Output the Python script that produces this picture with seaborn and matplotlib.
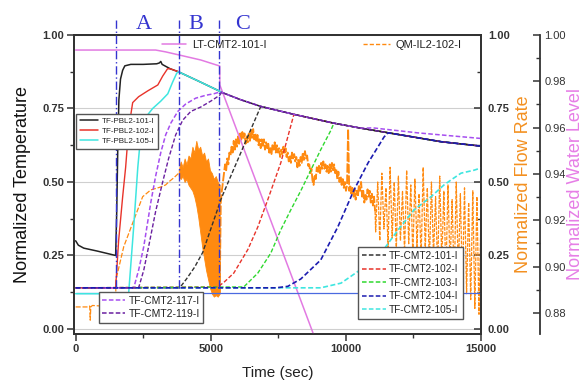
import numpy as np
import pandas as pd
import matplotlib
matplotlib.use("Agg")
import matplotlib.pyplot as plt
from matplotlib.lines import Line2D
from matplotlib.ticker import MultipleLocator, FixedLocator
import seaborn as sns

# ---------------- data ----------------
env_t = [3800, 4500, 5300, 5400, 6100, 6850, 8075, 9555, 10555, 12040, 13520, 15000]
env_v = [0.875, 0.845, 0.81, 0.805, 0.78, 0.757, 0.73, 0.70, 0.683, 0.66, 0.637, 0.622]

pbl101_t = [0, 100, 300, 800, 1480, 1520, 1560, 1600, 1660, 1740, 1820, 2040, 2500, 3000, 3100, 3150, 3200, 3300, 3500]
pbl101_v = [0.30, 0.285, 0.275, 0.265, 0.25, 0.40, 0.62, 0.78, 0.85, 0.88, 0.895, 0.90, 0.90, 0.902, 0.905, 0.91, 0.90, 0.895, 0.885]
pbl102_t = [0, 1480, 1590, 1740, 1850, 1960, 2110, 2330, 2670, 3040, 3220, 3400, 3500]
pbl102_v = [0.14, 0.14, 0.30, 0.45, 0.55, 0.68, 0.77, 0.79, 0.81, 0.83, 0.86, 0.885, 0.885]
pbl105_t = [0, 1960, 2150, 2300, 2410, 2590, 2850, 3150, 3410, 3590, 3740]
pbl105_v = [0.12, 0.12, 0.35, 0.55, 0.66, 0.72, 0.75, 0.775, 0.80, 0.84, 0.87]

cmt117_t = [0, 2150, 2330, 2520, 2780, 2960, 3150, 3330, 3520, 3780, 4070, 4440, 4820, 5110, 5330]
cmt117_v = [0.14, 0.14, 0.20, 0.28, 0.43, 0.52, 0.60, 0.66, 0.70, 0.74, 0.765, 0.785, 0.795, 0.80, 0.806]
cmt117_tail_t = [11000, 12667, 15000]
cmt117_tail_v = [0.684, 0.667, 0.648]
cmt119_t = [0, 2330, 2520, 2700, 2960, 3220, 3440, 3700, 3960, 4260, 4630, 5000, 5330]
cmt119_v = [0.14, 0.14, 0.20, 0.28, 0.40, 0.50, 0.58, 0.66, 0.71, 0.74, 0.755, 0.775, 0.795]

cmt101_t = [0, 3850, 4100, 4400, 4700, 5000, 5300, 5370, 5740, 6300]
cmt101_v = [0.14, 0.14, 0.17, 0.21, 0.26, 0.34, 0.42, 0.44, 0.52, 0.64]
cmt102_t = [0, 5260, 5500, 5850, 6370, 6740, 7110, 7590]
cmt102_v = [0.14, 0.143, 0.16, 0.19, 0.27, 0.347, 0.44, 0.565]
cmt103_t = [0, 6220, 6740, 7220, 7590, 7960, 8330, 8700, 9070, 9440]
cmt103_v = [0.14, 0.143, 0.19, 0.258, 0.337, 0.405, 0.47, 0.54, 0.61, 0.675]
cmt104_t = [0, 7410, 7850, 8330, 9070, 9700, 10300, 10820, 11190, 11410, 11560]
cmt104_v = [0.14, 0.14, 0.145, 0.17, 0.235, 0.347, 0.473, 0.565, 0.62, 0.653, 0.667]
cmt105_t = [0, 9070, 9820, 10670, 11300, 11930, 12520, 13150, 13630, 13890, 14260, 14740, 15000]
cmt105_v = [0.14, 0.14, 0.156, 0.21, 0.258, 0.337, 0.405, 0.45, 0.49, 0.507, 0.53, 0.54, 0.548]

base_t = [0, 15000]
base_v = [0.124, 0.124]

lt_t = [0, 2960, 3330, 3815, 4630, 5330, 5335, 8890]
lt_v = [0.9935, 0.9935, 0.9927, 0.9914, 0.9892, 0.9866, 0.9784, 0.868]

# flow rate: early part
orange_a_t = [0, 450, 520, 540, 560, 620, 1480, 1490, 1780, 2150, 2480, 2780, 3150, 3330, 3440, 3630, 3815]
orange_a_v = [0.075, 0.075, 0.078, 0.03, 0.075, 0.08, 0.075, 0.167, 0.28, 0.37, 0.45, 0.473, 0.483, 0.49, 0.50, 0.514, 0.53]
# flow rate: dense oscillating band (3815 s .. 5330 s), upper and lower envelopes
band_span = (3815, 5330)
band_hi = [0.54, 0.57, 0.55, 0.58, 0.56, 0.59, 0.58, 0.62, 0.60, 0.64, 0.61, 0.62, 0.59, 0.60, 0.57, 0.58, 0.54, 0.53, 0.51, 0.52, 0.50, 0.49]
band_lo = [0.52, 0.51, 0.52, 0.50, 0.51, 0.49, 0.48, 0.47, 0.45, 0.42, 0.38, 0.33, 0.28, 0.24, 0.20, 0.17, 0.14, 0.12, 0.11, 0.115, 0.11, 0.12]
# flow rate: noisy plateau (5330 s .. 11080 s), evenly sampled
plateau_span = (5330, 11080)
plateau_v = [0.12, 0.43, 0.47, 0.50, 0.53, 0.56, 0.54, 0.58, 0.56, 0.60, 0.59, 0.62, 0.60, 0.64, 0.61, 0.645,
             0.62, 0.655, 0.63, 0.665, 0.64, 0.67, 0.65, 0.665, 0.63, 0.655, 0.635, 0.665, 0.64, 0.675, 0.65,
             0.68, 0.645, 0.665, 0.64, 0.66, 0.625, 0.645, 0.615, 0.645, 0.62, 0.645, 0.61, 0.635, 0.615, 0.63,
             0.595, 0.615, 0.595, 0.63, 0.61, 0.635, 0.60, 0.625, 0.60, 0.615, 0.585, 0.61, 0.595, 0.62, 0.595,
             0.615, 0.585, 0.60, 0.57, 0.59, 0.565, 0.60, 0.58, 0.595, 0.57, 0.585, 0.55, 0.575, 0.555, 0.585,
             0.565, 0.60, 0.575, 0.605, 0.58, 0.59, 0.555, 0.56, 0.53, 0.545, 0.505, 0.49, 0.525, 0.51, 0.55,
             0.53, 0.555, 0.53, 0.565, 0.545, 0.57, 0.545, 0.56, 0.535, 0.555, 0.53, 0.56, 0.535, 0.565, 0.54,
             0.56, 0.53, 0.545, 0.51, 0.535, 0.50, 0.52, 0.49, 0.51, 0.48, 0.50, 0.47, 0.49, 0.68, 0.47, 0.49,
             0.46, 0.48, 0.45, 0.475, 0.44, 0.47, 0.45, 0.49, 0.47, 0.50, 0.45, 0.47, 0.43, 0.46, 0.44, 0.475,
             0.45, 0.47, 0.43, 0.46, 0.42, 0.45, 0.40]
# flow rate: strong oscillation (11100 s .. 15000 s), evenly sampled
osc_span = (11100, 15000)
osc_v = [0.33, 0.50, 0.30, 0.53, 0.34, 0.48, 0.28, 0.55, 0.31, 0.50, 0.27, 0.52, 0.30, 0.47, 0.26, 0.54,
         0.29, 0.49, 0.25, 0.51, 0.28, 0.46, 0.24, 0.55, 0.27, 0.48, 0.22, 0.50, 0.25, 0.45, 0.20, 0.52,
         0.23, 0.47, 0.18, 0.49, 0.21, 0.44, 0.16, 0.50, 0.19, 0.46, 0.14, 0.48, 0.12, 0.43, 0.10, 0.47,
         0.07, 0.45, 0.05, 0.40]

phase_t = [1490, 3820, 5320]
phase_names = ["A", "B", "C"]
phase_label_t = [2520, 4440, 6185]

temp_ticks = [0.0, 0.25, 0.5, 0.75, 1.0]
water_ticks = [0.88, 0.90, 0.92, 0.94, 0.96, 0.98, 1.00]
time_ticks = [0, 5000, 10000, 15000]

# ---------------- style ----------------
sns.set_style("ticks")
plt.rcParams["font.family"] = ["Liberation Sans", "DejaVu Sans"]
plt.rcParams["axes.linewidth"] = 1.3

C_BLACK = "#222222"
C_RED = "#e8332a"
C_CYAN = "#3ee6e0"
C_GREEN = "#2fd82f"
C_NAVY = "#1c1cb0"
C_V117 = "#a64ef0"
C_V119 = "#6a1fa0"
C_PINK = "#e27ae2"
C_ORANGE = "#ff8a10"
C_PHASE = "#3434d0"
C_BASE = "#4a6ae0"
TICKC = "#333333"


def with_env(t, v, start):
    tt = list(t) + [x for x in env_t if x > start]
    vv = list(v) + [y for x, y in zip(env_t, env_v) if x > start]
    return tt, vv


def draw(axis, t, v, color, ls="-", lw=1.0, z=2):
    df = pd.DataFrame({"t": t, "v": v})
    sns.lineplot(data=df, x="t", y="v", ax=axis, color=color, linestyle=ls, lw=lw,
                 estimator=None, sort=False, zorder=z)


fig = plt.figure(figsize=(5.87, 3.81), dpi=100)
ax = fig.add_axes([0.1261, 0.1234, 0.6934, 0.7848])
ax2 = ax.twinx()
ax3 = ax.twinx()
ax2.set_zorder(0)
ax3.set_zorder(1)
ax.set_zorder(2)
ax.patch.set_visible(False)
ax3.patch.set_visible(False)
ax2.patch.set_visible(True)
ax2.patch.set_facecolor("white")

# ---- flow rate (bottom layer) ----
band_t = np.linspace(band_span[0], band_span[1], len(band_hi))
ax2.fill_between(band_t, band_lo, band_hi, color=C_ORANGE, lw=0.6, zorder=2)
draw(ax2, orange_a_t, orange_a_v, C_ORANGE, ls=(0, (4, 1.5)), lw=0.9)
plateau_t = np.linspace(plateau_span[0], plateau_span[1], len(plateau_v))
draw(ax2, plateau_t, plateau_v, C_ORANGE, ls=(0, (5, 1)), lw=1.35)
osc_t = np.linspace(osc_span[0], osc_span[1], len(osc_v))
draw(ax2, [plateau_t[-1]] + list(osc_t), [plateau_v[-1]] + list(osc_v), C_ORANGE, ls=(0, (3, 1)), lw=0.9)
ax2.grid(True, color="#cfcfcf", lw=0.8)
ax2.set_axisbelow(True)

# ---- water level ----
draw(ax3, lt_t, lt_v, C_PINK, lw=1.1)

# ---- temperatures ----
draw(ax, base_t, base_v, C_BASE, lw=0.9)
dashed = (0, (3, 1.5))
t, v = with_env(cmt101_t, cmt101_v, cmt101_t[-1]); draw(ax, t, v, "#333333", ls=dashed)
t, v = with_env(cmt102_t, cmt102_v, cmt102_t[-1]); draw(ax, t, v, C_RED, ls=dashed)
t, v = with_env(cmt103_t, cmt103_v, cmt103_t[-1]); draw(ax, t, v, C_GREEN, ls=dashed)
draw(ax, cmt105_t, cmt105_v, C_CYAN, ls=dashed, lw=1.2)
t, v = with_env(pbl101_t, pbl101_v, pbl101_t[-1]); draw(ax, t, v, C_BLACK, lw=1.1)
t, v = with_env(pbl102_t, pbl102_v, pbl102_t[-1]); draw(ax, t[:len(pbl102_t) + 1], v[:len(pbl102_t) + 1], C_RED, lw=1.0)
t, v = with_env(pbl105_t, pbl105_v, pbl105_t[-1]); draw(ax, t[:len(pbl105_t) + 4], v[:len(pbl105_t) + 4], C_CYAN, lw=1.1)
t117, v117 = with_env(cmt117_t, cmt117_v, cmt117_t[-1])
keep = [i for i, x in enumerate(t117) if x <= 10555]
t117 = [t117[i] for i in keep] + cmt117_tail_t
v117 = [v117[i] for i in keep] + cmt117_tail_v
draw(ax, t117, v117, C_V117, ls=dashed, lw=1.1)
t, v = with_env(cmt119_t, cmt119_v, cmt119_t[-1]); draw(ax, t, v, C_V119, ls=dashed, lw=1.0)
t, v = with_env(cmt104_t, cmt104_v, cmt104_t[-1]); draw(ax, t, v, C_NAVY, ls=dashed, lw=1.2)

# phase markers
for pt in phase_t:
    ax.plot([pt, pt], [0.14, 1.051], color=C_PHASE, lw=1.0, ls=(0, (6, 2, 1, 2)),
            clip_on=False, zorder=3)
for name, pt in zip(phase_names, phase_label_t):
    ax.text(pt, 1.035, name, color=C_PHASE, fontsize=16, family=["Liberation Serif", "DejaVu Serif"],
            ha="center", va="center", clip_on=False)

# ---------------- axes ----------------
for a in (ax, ax2):
    a.set_xlim(-60, 15000)
    a.set_ylim(-0.017, 1.0)
ax3.set_ylim(0.8709, 1.0)

ax.xaxis.set_major_locator(FixedLocator(time_ticks))
ax.xaxis.set_minor_locator(MultipleLocator(2500))
ax.set_xticklabels([str(x) for x in time_ticks])
ax.yaxis.set_major_locator(FixedLocator(temp_ticks))
ax.yaxis.set_minor_locator(MultipleLocator(0.125))
ax.set_yticklabels([f"{x:.2f}" for x in temp_ticks])
ax2.yaxis.set_major_locator(FixedLocator(temp_ticks))
ax2.yaxis.set_minor_locator(MultipleLocator(0.125))
ax2.set_yticklabels([f"{x:.2f}" for x in temp_ticks])
ax3.yaxis.set_major_locator(FixedLocator(water_ticks))
ax3.yaxis.set_minor_locator(MultipleLocator(0.01))
ax3.set_yticklabels([f"{x:.2f}" for x in water_ticks])

ax.tick_params(axis="both", which="major", direction="out", length=5, width=1.1, labelsize=8, colors=TICKC, pad=2)
ax.tick_params(axis="both", which="minor", direction="out", length=3, width=1.0, colors=TICKC)
ax.tick_params(top=False, right=False, which="both")
ax2.tick_params(axis="y", which="major", direction="in", length=5, width=1.1, labelsize=8, colors=TICKC, pad=5)
ax2.tick_params(axis="y", which="minor", direction="in", length=3, width=1.0, colors=TICKC)
ax3.tick_params(axis="y", which="major", direction="in", length=5, width=1.1, labelsize=8, colors=TICKC, pad=3)
ax3.tick_params(axis="y", which="minor", direction="in", length=3, width=1.0, colors=TICKC)
for a in (ax2, ax3):
    a.tick_params(axis="x", which="both", bottom=False, top=False, labelbottom=False)
for a in (ax, ax2, ax3):
    for lab in a.get_yticklabels() + a.get_xticklabels():
        lab.set_fontweight("bold")

for s in ax.spines.values():
    s.set_color("#333333")
ax2.spines["right"].set_color("#333333")
for name in ("left", "top", "bottom"):
    ax3.spines[name].set_visible(False)
ax3.spines["right"].set_position(("outward", 42.5))
ax3.spines["right"].set_color("#333333")

ax.set_xlabel("Time (sec)", fontsize=11, labelpad=9, color="#222222")
ax.set_ylabel("Normalized Temperature", fontsize=13, labelpad=8, color="#111111")
ax2.set_ylabel("Normalized Flow Rate", fontsize=13, labelpad=4, color="#f39020")
ax3.set_ylabel("Normalized Water Level", fontsize=13, labelpad=1, color="#e67ee6")

# ---------------- legends ----------------
frame_kw = dict(frameon=True, fancybox=False, edgecolor="#555555", framealpha=1, borderaxespad=0)
leg1 = ax.legend(handles=[Line2D([], [], color=C_BLACK, lw=1.1),
                          Line2D([], [], color=C_RED, lw=1.1),
                          Line2D([], [], color=C_CYAN, lw=1.1)],
                 labels=["TF-PBL2-101-I", "TF-PBL2-102-I", "TF-PBL2-105-I"],
                 loc="upper left", bbox_to_anchor=(0.005, 0.736), fontsize=5.8,
                 handlelength=2.3, labelspacing=0.3, borderpad=0.45, handletextpad=0.4, **frame_kw)
ax.add_artist(leg1)
leg2 = ax.legend(handles=[Line2D([], [], color=C_V117, lw=1.1, ls=dashed),
                          Line2D([], [], color=C_V119, lw=1.1, ls=dashed)],
                 labels=["TF-CMT2-117-I", "TF-CMT2-119-I"],
                 loc="upper left", bbox_to_anchor=(0.061, 0.140), fontsize=7.5,
                 handlelength=2.2, labelspacing=0.3, borderpad=0.35, handletextpad=0.3, **frame_kw)
ax.add_artist(leg2)
leg3 = ax.legend(handles=[Line2D([], [], color="#333333", lw=1.1, ls=dashed),
                          Line2D([], [], color=C_RED, lw=1.1, ls=dashed),
                          Line2D([], [], color=C_GREEN, lw=1.1, ls=dashed),
                          Line2D([], [], color=C_NAVY, lw=1.1, ls=dashed),
                          Line2D([], [], color=C_CYAN, lw=1.1, ls=dashed)],
                 labels=["TF-CMT2-101-I", "TF-CMT2-102-I", "TF-CMT2-103-I", "TF-CMT2-104-I", "TF-CMT2-105-I"],
                 loc="upper left", bbox_to_anchor=(0.698, 0.291), fontsize=7.2,
                 handlelength=2.4, labelspacing=0.35, borderpad=0.4, handletextpad=0.3, **frame_kw)
ax.add_artist(leg3)
leg4 = ax.legend(handles=[Line2D([], [], color=C_PINK, lw=1.1)], labels=["LT-CMT2-101-I"],
                 loc="center left", bbox_to_anchor=(0.216, 0.9666), fontsize=8, frameon=False,
                 handlelength=2.2, borderpad=0, borderaxespad=0, handletextpad=0.5)
ax.add_artist(leg4)
leg5 = ax.legend(handles=[Line2D([], [], color=C_ORANGE, lw=1.0, ls=dashed)], labels=["QM-IL2-102-I"],
                 loc="center left", bbox_to_anchor=(0.710, 0.9666), fontsize=8, frameon=False,
                 handlelength=2.4, borderpad=0, borderaxespad=0, handletextpad=0.5)
for lg in (leg1, leg2, leg3, leg4, leg5):
    for txt in lg.get_texts():
        txt.set_color("#222222")

fig.savefig("out.png", dpi=100)
